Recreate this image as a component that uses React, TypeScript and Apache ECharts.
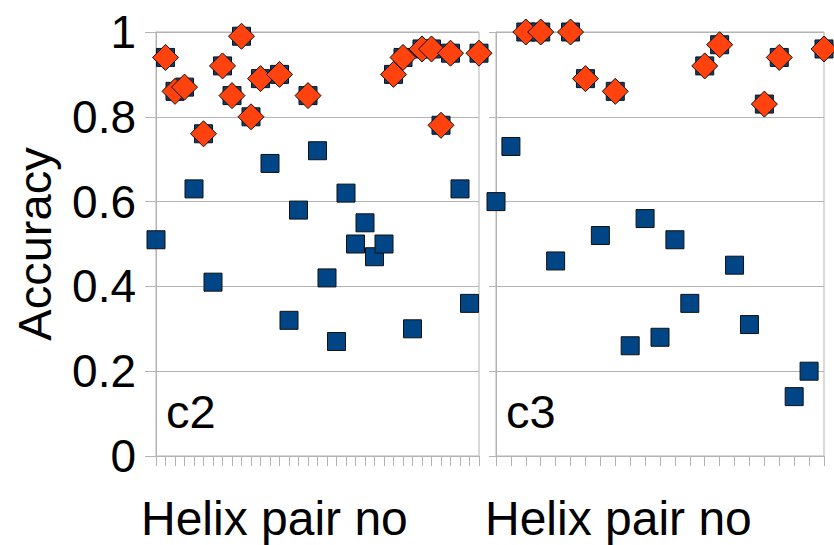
import React, { useEffect, useRef } from "react";
import * as echarts from "echarts";

// Accuracy per helix pair, panel c2 (pairs 0..34)
const c2Accuracy: number[] = [
  0.51, 0.94, 0.86, 0.87, 0.63, 0.76, 0.41, 0.92, 0.85, 0.99,
  0.80, 0.89, 0.69, 0.90, 0.32, 0.58, 0.85, 0.72, 0.42, 0.27,
  0.62, 0.50, 0.55, 0.47, 0.50, 0.90, 0.94, 0.30, 0.96, 0.96,
  0.78, 0.95, 0.63, 0.36, 0.95,
];
// Pairs highlighted with a diamond in c2 (null = not highlighted)
const c2Highlight: (number | null)[] = [
  null, 0.94, 0.86, 0.87, null, 0.76, null, 0.92, 0.85, 0.99,
  0.80, 0.89, null, 0.90, null, null, 0.85, null, null, null,
  null, null, null, null, null, 0.90, 0.94, null, 0.96, 0.96,
  0.78, 0.95, null, null, 0.95,
];

// Accuracy per helix pair, panel c3 (pairs 0..22)
const c3Accuracy: number[] = [
  0.60, 0.73, 1.00, 1.00, 0.46, 1.00, 0.89, 0.52, 0.86, 0.26,
  0.56, 0.28, 0.51, 0.36, 0.92, 0.97, 0.45, 0.31, 0.83, 0.94,
  0.14, 0.20, 0.96,
];
const c3Highlight: (number | null)[] = [
  null, null, 1.00, 1.00, null, 1.00, 0.89, null, 0.86, null,
  null, null, null, null, 0.92, 0.97, null, null, 0.83, 0.94,
  null, null, 0.96,
];

const yTicks: number[] = [0, 0.2, 0.4, 0.6, 0.8, 1];
const panelLabels: string[] = ["c2", "c3"];
const xTitle = "Helix pair no";
const yTitle = "Accuracy";

const BLUE = "#004586";
const ORANGE = "#ff420e";
const GRIDLINE = "#b3b3b3";
const FONT = "Liberation Sans, Arial, sans-serif";

function toPoints(values: (number | null)[]) {
  const pts: [number, number][] = [];
  values.forEach((v, i) => {
    if (v !== null) pts.push([i, v]);
  });
  return pts;
}

export default function App() {
  const ref = useRef<HTMLDivElement>(null);

  useEffect(() => {
    if (!ref.current) return;
    const chart = echarts.init(ref.current, undefined, { renderer: "svg" });

    const makeX = (gridIndex: number, max: number) => ({
      type: "value" as const,
      gridIndex,
      min: 0,
      max,
      interval: 1,
      axisLabel: { show: false },
      splitLine: { show: false },
      axisLine: { lineStyle: { color: GRIDLINE, width: 1 } },
      axisTick: { show: true, length: 10, lineStyle: { color: GRIDLINE } },
    });

    const makeY = (gridIndex: number, showLabels: boolean, tickLen: number) => ({
      type: "value" as const,
      gridIndex,
      min: yTicks[0],
      max: yTicks[yTicks.length - 1],
      interval: 0.2,
      axisLine: { show: true, lineStyle: { color: GRIDLINE, width: 1 } },
      axisTick: { show: true, length: tickLen, lineStyle: { color: GRIDLINE } },
      splitLine: { show: true, lineStyle: { color: GRIDLINE, width: 1 } },
      axisLabel: {
        show: showLabels,
        margin: 20,
        color: "#000",
        fontSize: 46,
        fontFamily: FONT,
        formatter: (v: number) => String(+v.toFixed(1)),
      },
    });

    const squares = (xi: number, data: number[]) => ({
      type: "scatter" as const,
      xAxisIndex: xi,
      yAxisIndex: xi,
      symbol: "rect",
      symbolSize: 18,
      clip: false,
      z: 2,
      itemStyle: { color: BLUE, borderColor: "#111", borderWidth: 1, opacity: 1 },
      data: data.map((v, i) => [i, v]),
    });

    const diamonds = (xi: number, data: (number | null)[]) => ({
      type: "scatter" as const,
      xAxisIndex: xi,
      yAxisIndex: xi,
      symbol: "diamond",
      symbolSize: 26,
      clip: false,
      z: 3,
      itemStyle: { color: ORANGE, borderColor: "#111", borderWidth: 1, opacity: 1 },
      data: toPoints(data),
    });

    const text = (x: number, y: number, s: string, size: number, extra: object = {}) => ({
      type: "text",
      x,
      y,
      z: 10,
      ...extra,
      style: { text: s, fill: "#000", font: `${size}px ${FONT}`, textAlign: "left", textVerticalAlign: "middle" },
    });

    chart.setOption({
      animation: false,
      backgroundColor: "#fff",
      grid: [
        { left: 156, top: 32, width: 323, height: 424, show: true, borderColor: GRIDLINE, borderWidth: 1, backgroundColor: "transparent" },
        { left: 496, top: 32, width: 328, height: 424, show: true, borderColor: GRIDLINE, borderWidth: 1, backgroundColor: "transparent" },
      ],
      xAxis: [makeX(0, c2Accuracy.length - 1), makeX(1, c3Accuracy.length - 1)],
      yAxis: [makeY(0, true, 11), makeY(1, false, 7)],
      series: [
        squares(0, c2Accuracy),
        diamonds(0, c2Highlight),
        squares(1, c3Accuracy),
        diamonds(1, c3Highlight),
      ],
      graphic: [
        {
          type: "text",
          x: 34,
          y: 244,
          rotation: Math.PI / 2,
          style: { text: yTitle, fill: "#000", font: `47px ${FONT}`, textAlign: "center", textVerticalAlign: "middle" },
        },
        text(141, 518.5, xTitle, 48),
        text(485, 518.5, xTitle, 48),
        text(166, 411.7, panelLabels[0], 47),
        text(506, 411.7, panelLabels[1], 47),
      ],
    });

    return () => chart.dispose();
  }, []);

  return (
    <div
      ref={ref}
      style={{ position: "absolute", left: 0, top: 0, width: 834, height: 545, background: "#fff" }}
    />
  );
}
